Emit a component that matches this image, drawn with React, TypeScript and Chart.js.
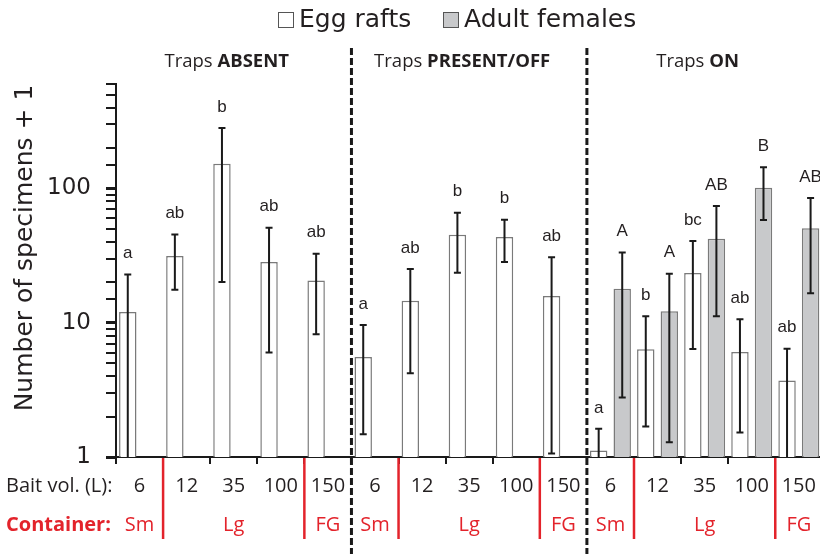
import React, { useEffect, useRef } from 'react';
import { Chart, registerables } from 'chart.js';

Chart.register(...registerables);

// ---- data ----
const baitVolumes = ['6', '12', '35', '100', '150', '6', '12', '35', '100', '150', '6', '12', '35', '100', '150'];

const eggMean = [12.0, 31.4, 153, 28.3, 20.6, 5.55, 14.6, 45.3, 43.5, 15.8, 1.12, 6.34, 23.5, 6.05, 3.71];
const eggHigh = [22.9, 45.5, 282, 51, 32.7, 9.6, 25.1, 66, 58.6, 30.7, 1.62, 11.2, 40.6, 10.6, 6.41];
const eggLow = [1, 17.6, 20.1, 6.0, 8.2, 1.48, 4.2, 23.6, 28.3, 1.06, 1, 1.69, 6.37, 1.52, 1];
const eggLetters = ['a', 'ab', 'b', 'ab', 'ab', 'a', 'ab', 'b', 'b', 'ab', 'a', 'b', 'bc', 'ab', 'ab'];

const adultMean = [null, null, null, null, null, null, null, null, null, null, 17.9, 12.2, 42.3, 101.4, 50.5];
const adultHigh = [null, null, null, null, null, null, null, null, null, null, 33.3, 23.2, 74, 144, 84.9];
const adultLow = [null, null, null, null, null, null, null, null, null, null, 2.78, 1.29, 11.2, 58.2, 16.6];
const adultLetters = ['', '', '', '', '', '', '', '', '', '', 'A', 'A', 'AB', 'B', 'AB'];

const yTickLabels = [1, 10, 100];

const panelPrefix = ['Traps', 'Traps', 'Traps'];
const panelBold = ['ABSENT', 'PRESENT/OFF', 'ON'];
const panelEnd = [4, 9, 14];

const containerLabels = ['Sm', 'Lg', 'FG', 'Sm', 'Lg', 'FG', 'Sm', 'Lg', 'FG'];
const containerStart = [0, 1, 4, 5, 6, 9, 10, 11, 14];
const containerEnd = [0, 3, 4, 5, 8, 9, 10, 13, 14];

const legendLabels = ['Egg rafts', 'Adult females'];

const TEXT = '#231f20';
const RED = '#e3232b';
const GRAY_FILL = '#c8c9cb';
const BORDER = '#7a7a7a';
const TITLE_FONT = '"Open Sans", sans-serif';

const overlay = {
  id: 'overlay',
  afterDatasetsDraw(chart: any) {
    const ctx = chart.ctx;
    const y = chart.scales.y;
    ctx.save();

    const sets = [
      { meta: chart.getDatasetMeta(0), mean: eggMean, hi: eggHigh, lo: eggLow, letters: eggLetters },
      { meta: chart.getDatasetMeta(1), mean: adultMean, hi: adultHigh, lo: adultLow, letters: adultLetters },
    ];
    sets.forEach((s) => {
      s.meta.data.forEach((bar: any, i: number) => {
        if (s.mean[i] == null) return;
        const cx = bar.x;
        const yh = y.getPixelForValue(s.hi[i] as number);
        const yl = y.getPixelForValue(s.lo[i] as number);
        ctx.strokeStyle = '#1a1a1a';
        ctx.lineWidth = 2;
        ctx.beginPath();
        ctx.moveTo(cx, yh);
        ctx.lineTo(cx, yl);
        ctx.moveTo(cx - 3.5, yh);
        ctx.lineTo(cx + 3.5, yh);
        if ((s.lo[i] as number) > 1.001) {
          ctx.moveTo(cx - 3.5, yl);
          ctx.lineTo(cx + 3.5, yl);
        }
        ctx.stroke();
        ctx.fillStyle = TEXT;
        ctx.font = '17px "Liberation Sans", Arial, sans-serif';
        ctx.textAlign = 'center';
        ctx.textBaseline = 'middle';
        ctx.fillText(s.letters[i], cx, yh - 21);
      });
    });
    ctx.restore();
  },
  afterDraw(chart: any) {
    const ctx = chart.ctx;
    const x = chart.scales.x;
    const area = chart.chartArea;
    const half = (x.getPixelForValue(1) - x.getPixelForValue(0)) / 2;
    const boundary = (i: number) => x.getPixelForValue(i) + half;
    ctx.save();

    // red container separators
    ctx.strokeStyle = RED;
    ctx.lineWidth = 2.5;
    containerEnd.forEach((e) => {
      if (panelEnd.includes(e)) return;
      const bx = boundary(e);
      ctx.beginPath();
      ctx.moveTo(bx, area.bottom + 1);
      ctx.lineTo(bx, area.bottom + 82);
      ctx.stroke();
    });

    // container labels
    ctx.fillStyle = RED;
    ctx.font = '20px "Open Sans", sans-serif';
    ctx.textAlign = 'center';
    ctx.textBaseline = 'middle';
    containerLabels.forEach((lab, k) => {
      const cx = (x.getPixelForValue(containerStart[k]) + x.getPixelForValue(containerEnd[k])) / 2;
      ctx.fillText(lab, cx, 525);
    });
    ctx.textAlign = 'left';
    ctx.font = 'bold 20px "Open Sans", sans-serif';
    ctx.fillText('Container:', 6, 525);

    ctx.fillStyle = TEXT;
    ctx.font = '20px "Open Sans", sans-serif';
    ctx.fillText('Bait vol. (L):', 6, 486);

    // dashed panel separators
    ctx.strokeStyle = '#1a1a1a';
    ctx.lineWidth = 3;
    ctx.setLineDash([7, 3]);
    panelEnd.forEach((e) => {
      if (e === 14) return;
      const bx = boundary(e);
      ctx.beginPath();
      ctx.moveTo(bx, 48);
      ctx.lineTo(bx, 554);
      ctx.stroke();
    });
    ctx.setLineDash([]);

    // panel titles
    ctx.textBaseline = 'middle';
    ctx.textAlign = 'left';
    panelBold.forEach((b, k) => {
      const start = k === 0 ? 0 : panelEnd[k - 1] + 1;
      const l = x.getPixelForValue(start) - half;
      const r = boundary(panelEnd[k]);
      ctx.font = '18.5px ' + TITLE_FONT;
      const w1 = ctx.measureText(panelPrefix[k] + ' ').width;
      ctx.font = 'bold 18.5px ' + TITLE_FONT;
      const w2 = ctx.measureText(b).width;
      const sx = (l + r) / 2 - (w1 + w2) / 2 - 7;
      ctx.font = '18.5px ' + TITLE_FONT;
      ctx.fillStyle = TEXT;
      ctx.fillText(panelPrefix[k] + ' ', sx, 62);
      ctx.font = 'bold 18.5px ' + TITLE_FONT;
      ctx.fillText(b, sx + w1, 62);
    });

    // legend
    ctx.font = '25px "DejaVu Sans", sans-serif';
    ctx.textBaseline = 'middle';
    const legendX = [278, 443];
    const fills = ['#ffffff', GRAY_FILL];
    legendLabels.forEach((lab, k) => {
      ctx.fillStyle = fills[k];
      ctx.fillRect(legendX[k], 12, 15, 15);
      ctx.strokeStyle = '#555';
      ctx.lineWidth = 1;
      ctx.strokeRect(legendX[k] + 0.5, 12.5, 15, 15);
      ctx.fillStyle = TEXT;
      ctx.fillText(lab, legendX[k] + 21, 20);
    });

    // y title
    ctx.save();
    ctx.translate(32, 248);
    ctx.rotate(-Math.PI / 2);
    ctx.textAlign = 'center';
    ctx.textBaseline = 'alphabetic';
    ctx.font = '25px "DejaVu Sans", sans-serif';
    ctx.fillStyle = TEXT;
    ctx.fillText('Number of specimens + 1', 0, 0);
    ctx.restore();

    ctx.restore();
  },
};

export default function App() {
  const ref = useRef<HTMLCanvasElement | null>(null);
  useEffect(() => {
    if (!ref.current) return;
    const chart = new Chart(ref.current, {
      type: 'bar',
      data: {
        labels: baitVolumes,
        datasets: [
          {
            label: legendLabels[0],
            data: eggMean,
            backgroundColor: '#ffffff',
            borderColor: BORDER,
            borderWidth: 1.5,
            borderSkipped: 'bottom',
          },
          {
            label: legendLabels[1],
            data: adultMean as any,
            backgroundColor: GRAY_FILL,
            borderColor: BORDER,
            borderWidth: 1.5,
            borderSkipped: 'bottom',
          },
        ],
      },
      options: {
        responsive: false,
        animation: false,
        devicePixelRatio: 1,
        layout: { padding: { top: 84, left: 0, right: 1, bottom: 0 } },
        datasets: { bar: { categoryPercentage: 1.0, barPercentage: 0.74 } },
        plugins: { legend: { display: false }, tooltip: { enabled: false }, title: { display: false } },
        scales: {
          x: {
            type: 'category',
            offset: true,
            grid: { offset: true, drawOnChartArea: false, drawTicks: true, tickLength: 7, color: '#1a1a1a', lineWidth: 2 },
            border: { display: true, color: '#1a1a1a', width: 2 },
            ticks: {
              color: TEXT,
              font: { family: '"Open Sans", sans-serif', size: 20 },
              padding: 10,
              maxRotation: 0,
              autoSkip: false,
            },
            afterFit: (s: any) => { s.height = 97; },
          },
          y: {
            type: 'logarithmic',
            min: 1,
            max: 600,
            grid: {
              drawOnChartArea: false,
              drawTicks: true,
              tickLength: 10,
              color: '#1a1a1a',
              lineWidth: (c: any) => (c.tick && yTickLabels.includes(c.tick.value) ? 3 : 2),
            },
            border: { display: true, color: '#1a1a1a', width: 2 },
            ticks: {
              color: TEXT,
              font: { family: '"DejaVu Sans", sans-serif', size: 23 },
              padding: 15,
              autoSkip: false,
              callback: (v: any) => (yTickLabels.includes(Number(v)) ? String(v) : ''),
            },
            afterFit: (s: any) => { s.width = 116; },
          },
        },
      },
      plugins: [overlay],
    });
    return () => chart.destroy();
  }, []);
  return (
    <div style={{ position: 'fixed', left: 0, top: 0, width: 820, height: 554, overflow: 'hidden', background: '#fff' }}>
      <canvas ref={ref} width={826} height={554} style={{ display: 'block' }} />
    </div>
  );
}
